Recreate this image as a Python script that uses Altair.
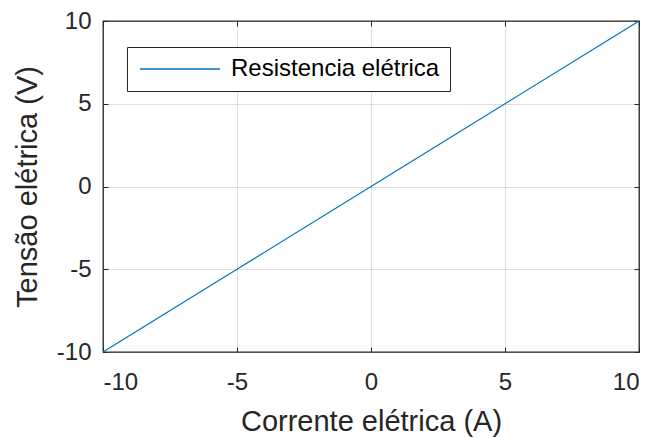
import altair as alt
import pandas as pd

# data
current = [-10, -5, 0, 5, 10]
voltage = [-10, -5, 0, 5, 10]
series_name = "Resistencia elétrica"
tick_values = [-10, -5, 0, 5, 10]

df = pd.DataFrame({"x": current, "y": voltage, "series": [series_name] * len(current)})

FONT = "Liberation Sans"
DARK = "#262626"
BLUE = "#0072BD"

xs = alt.Scale(domain=[-10, 10], nice=False, zero=False)
ys = alt.Scale(domain=[-10, 10], nice=False, zero=False)

main = alt.Chart(df).mark_line(strokeWidth=1.1, clip=True).encode(
    x=alt.X("x:Q", scale=xs, axis=alt.Axis(
        orient="bottom", values=tick_values, title="Corrente elétrica (A)",
        labelExpr="'' + datum.value",
        ticks=False, domain=False, grid=True, gridColor=DARK, gridOpacity=0.15,
        labelFont=FONT, labelFontSize=24, labelColor=DARK, labelPadding=18,
        titleFont=FONT, titleFontSize=29, titleFontWeight="normal", titleColor=DARK, titlePadding=13)),
    y=alt.Y("y:Q", scale=ys, axis=alt.Axis(
        orient="left", values=tick_values, title="Tensão elétrica (V)",
        labelExpr="'' + datum.value",
        ticks=False, domain=False, grid=True, gridColor=DARK, gridOpacity=0.15,
        labelFont=FONT, labelFontSize=24, labelColor=DARK, labelPadding=12,
        titleFont=FONT, titleFontSize=29, titleFontWeight="normal", titleColor=DARK, titlePadding=14)),
    color=alt.Color("series:N", scale=alt.Scale(domain=[series_name], range=[BLUE]),
                    legend=alt.Legend(title=None, orient="none", legendX=24, legendY=26,
                                      strokeColor=DARK, fillColor="white", padding=10,
                                      symbolType="stroke", symbolSize=6400, symbolStrokeWidth=1.3,
                                      symbolOffset=2, clipHeight=24,
                                      labelFont=FONT, labelFontSize=24, labelColor="black",
                                      labelOffset=10, labelLimit=400)),
)

def tick_axis(orient):
    return alt.Axis(orient=orient, values=tick_values, offset=-5, tickSize=5, tickColor=DARK,
                    labels=False, domain=False, grid=False, title=None)

ticks_bl = alt.Chart(df).mark_line(opacity=0).encode(
    x=alt.X("x:Q", scale=xs, axis=tick_axis("bottom")),
    y=alt.Y("y:Q", scale=ys, axis=tick_axis("left")),
)
ticks_tr = alt.Chart(df).mark_line(opacity=0).encode(
    x=alt.X("x:Q", scale=xs, axis=tick_axis("top")),
    y=alt.Y("y:Q", scale=ys, axis=tick_axis("right")),
)

chart = alt.layer(main, ticks_bl, ticks_tr).resolve_axis(x="independent", y="independent").properties(
    width=536, height=331,
    autosize=alt.AutoSizeParams(type="none"),
    padding={"left": 103, "top": 21, "right": 15, "bottom": 86},
    background="white",
).configure_view(stroke=DARK, strokeWidth=1.3)

chart.save("out.html", embed_options={"renderer": "svg", "actions": False})
